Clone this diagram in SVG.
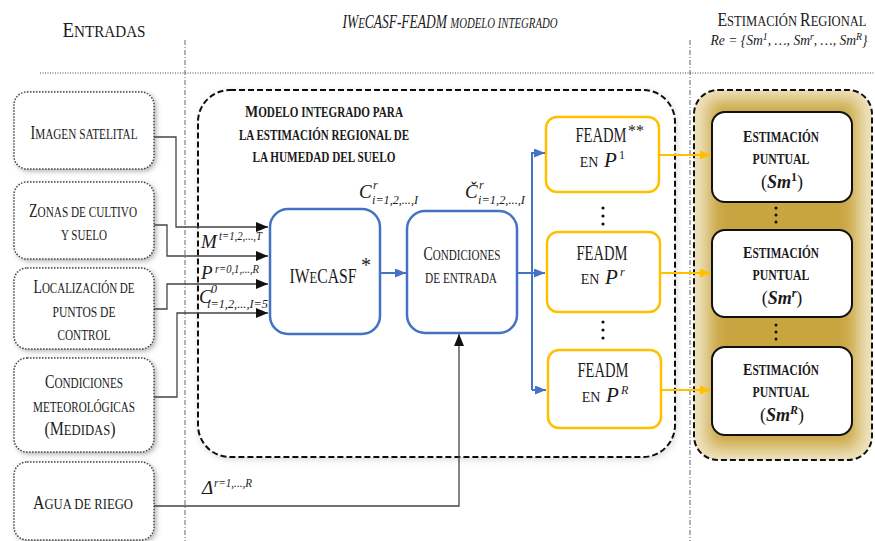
<svg xmlns="http://www.w3.org/2000/svg" width="875" height="541" viewBox="0 0 875 541">
<defs>
<style>
text{font-family:"Liberation Serif","DejaVu Serif",serif;fill:#1a1a1a}
.s{font-size:0.8em}
.in{fill:#fff;stroke:#444;stroke-width:1.5;stroke-dasharray:1.5 1.5}
.blue{fill:#fff;stroke:#4472C4;stroke-width:2.5}
.gold{fill:#fff;stroke:#FFC000;stroke-width:2.5}
.est{fill:#fff;stroke:#111;stroke-width:2}
.k{fill:none;stroke:#444;stroke-width:1.3}
.b{fill:none;stroke:#4472C4;stroke-width:2}
.g{fill:none;stroke:#FFC000;stroke-width:2}
.guide{fill:none;stroke:#666;stroke-width:1;stroke-dasharray:5 2 1 2}
.it{font-style:italic}
.lbl{font-size:19px;text-anchor:middle}
.ttl{font-size:17px;font-weight:bold;text-anchor:middle}
.fe{font-size:21px;text-anchor:middle}
.en{font-size:14px;text-anchor:middle}
.p{font-size:21px;font-style:italic}
.sup{font-size:12px;font-style:italic}
.et{font-size:17px;font-weight:bold;text-anchor:middle}
.sm{font-size:18px;text-anchor:middle}
.m{font-size:19px;font-style:italic}
</style>
<marker id="ak" markerWidth="12" markerHeight="10" refX="12" refY="5" orient="auto" markerUnits="userSpaceOnUse"><path d="M0,0 L12,5 L0,10 z" fill="#111"/></marker>
<marker id="ab" markerWidth="11" markerHeight="9" refX="11" refY="4.5" orient="auto" markerUnits="userSpaceOnUse"><path d="M0,0 L11,4.5 L0,9 z" fill="#4472C4"/></marker>
<marker id="ag" markerWidth="11" markerHeight="9" refX="11" refY="4.5" orient="auto" markerUnits="userSpaceOnUse"><path d="M0,0 L11,4.5 L0,9 z" fill="#FFC000"/></marker>
<filter id="sh" x="-20%" y="-20%" width="140%" height="140%"><feDropShadow dx="2" dy="2" stdDeviation="2.5" flood-color="#000" flood-opacity="0.3"/></filter>
<filter id="sh2" x="-10%" y="-10%" width="120%" height="120%"><feDropShadow dx="1" dy="2" stdDeviation="3" flood-color="#000" flood-opacity="0.15"/></filter>
<filter id="blur" x="-20%" y="-20%" width="140%" height="140%"><feGaussianBlur stdDeviation="9"/></filter>
<clipPath id="cp"><rect x="694" y="90" width="178" height="370" rx="24"/></clipPath>
</defs>
<rect width="875" height="541" fill="#fff"/>

<g id="headers">
<text x="104" y="37" font-size="22" text-anchor="middle" textLength="83" lengthAdjust="spacingAndGlyphs">E<tspan class="s">NTRADAS</tspan></text>
<text x="450" y="28" font-size="19" text-anchor="middle" class="it" textLength="215" lengthAdjust="spacingAndGlyphs">IW<tspan class="s">E</tspan>CASF-FEADM <tspan class="s">MODELO INTEGRADO</tspan></text>
<text x="792" y="26" font-size="19" text-anchor="middle" textLength="149" lengthAdjust="spacingAndGlyphs">E<tspan class="s">STIMACIÓN </tspan>R<tspan class="s">EGIONAL</tspan></text>
<text x="789" y="45" font-size="14" text-anchor="middle" class="it" textLength="157" lengthAdjust="spacingAndGlyphs">Re = {Sm<tspan font-size="10" dy="-5">1</tspan><tspan dy="5">, …, Sm</tspan><tspan font-size="10" dy="-5">r</tspan><tspan dy="5">, …, Sm</tspan><tspan font-size="10" dy="-5">R</tspan><tspan dy="5">}</tspan></text>
<line class="guide" x1="185" y1="40" x2="185" y2="541"/>
<line class="guide" x1="690" y1="40" x2="690" y2="541"/>
<line x1="40" y1="73" x2="875" y2="73" stroke="#444" stroke-width="1.2" stroke-dasharray="1 1.5"/>
</g>

<g id="model-container">
<rect x="198" y="90" width="477" height="367" rx="32" fill="#fff" stroke="#111" stroke-width="2" stroke-dasharray="6 3" filter="url(#sh2)"/>
<text class="ttl" x="324" y="117" textLength="158" lengthAdjust="spacingAndGlyphs">M<tspan class="s">ODELO INTEGRADO PARA</tspan></text>
<text class="ttl" x="324" y="140" textLength="170" lengthAdjust="spacingAndGlyphs"><tspan class="s">LA ESTIMACIÓN REGIONAL DE</tspan></text>
<text class="ttl" x="324" y="162" textLength="143" lengthAdjust="spacingAndGlyphs"><tspan class="s">LA HUMEDAD DEL SUELO</tspan></text>
</g>

<g id="regional-container">
<rect x="694" y="90" width="178" height="370" rx="24" fill="#f1e6c6"/>
<g clip-path="url(#cp)"><rect x="708" y="100" width="150" height="348" fill="#c9a540" filter="url(#blur)"/></g>
<rect x="694" y="90" width="178" height="370" rx="24" fill="none" stroke="#111" stroke-width="2" stroke-dasharray="6 3"/>
</g>

<g id="in1"><rect class="in" x="14" y="92" width="140" height="77" rx="13" filter="url(#sh)"/><text class="lbl" x="84" y="139" textLength="107" lengthAdjust="spacingAndGlyphs">I<tspan class="s">MAGEN SATELITAL</tspan></text></g>
<g id="in2"><rect class="in" x="14" y="182" width="140" height="77" rx="13" filter="url(#sh)"/><text class="lbl" x="83" y="217" textLength="108" lengthAdjust="spacingAndGlyphs">Z<tspan class="s">ONAS DE CULTIVO</tspan></text><text class="lbl" x="84" y="240" textLength="46" lengthAdjust="spacingAndGlyphs"><tspan class="s">Y SUELO</tspan></text></g>
<g id="in3"><rect class="in" x="14" y="268" width="140" height="81" rx="13" filter="url(#sh)"/><text class="lbl" x="84" y="293" textLength="101" lengthAdjust="spacingAndGlyphs">L<tspan class="s">OCALIZACIÓN DE</tspan></text><text class="lbl" x="84" y="317" textLength="63" lengthAdjust="spacingAndGlyphs"><tspan class="s">PUNTOS DE</tspan></text><text class="lbl" x="84" y="340" textLength="53" lengthAdjust="spacingAndGlyphs"><tspan class="s">CONTROL</tspan></text></g>
<g id="in4"><rect class="in" x="14" y="358" width="140" height="94" rx="13" filter="url(#sh)"/><text class="lbl" x="84" y="388" textLength="78" lengthAdjust="spacingAndGlyphs">C<tspan class="s">ONDICIONES</tspan></text><text class="lbl" x="84" y="412" textLength="102" lengthAdjust="spacingAndGlyphs"><tspan class="s">METEOROLÓGICAS</tspan></text><text class="lbl" x="80" y="435" textLength="71" lengthAdjust="spacingAndGlyphs">(M<tspan class="s">EDIDAS</tspan>)</text></g>
<g id="in5"><rect class="in" x="14" y="462" width="140" height="78" rx="13" filter="url(#sh)"/><text class="lbl" x="83" y="509" textLength="100" lengthAdjust="spacingAndGlyphs">A<tspan class="s">GUA DE RIEGO</tspan></text></g>

<g id="iwecasf"><rect class="blue" x="270" y="209" width="110" height="125" rx="18"/><text x="323" y="283" font-size="22" text-anchor="middle" textLength="67" lengthAdjust="spacingAndGlyphs">IW<tspan class="s">E</tspan>CASF</text><text x="361" y="272" font-size="20">*</text></g>
<g id="condiciones"><rect class="blue" x="407" y="211" width="110" height="122" rx="18"/><text x="462" y="260" font-size="18" text-anchor="middle" textLength="77" lengthAdjust="spacingAndGlyphs">C<tspan class="s">ONDICIONES</tspan></text><text x="461" y="283" font-size="18" text-anchor="middle" textLength="72" lengthAdjust="spacingAndGlyphs"><tspan class="s">DE ENTRADA</tspan></text></g>

<g id="feadm1"><rect class="gold" x="546" y="117" width="113" height="75" rx="11"/><text class="fe" x="601" y="142" textLength="51" lengthAdjust="spacingAndGlyphs">FEADM</text><text x="628" y="136" font-size="16">**</text><text class="en" x="589" y="167">EN</text><text class="p" x="604" y="167">P</text><text x="619" y="159" font-size="12">1</text></g>
<g id="feadm2"><rect class="gold" x="547" y="232" width="113" height="80" rx="11"/><text class="fe" x="602" y="260" textLength="51" lengthAdjust="spacingAndGlyphs">FEADM</text><text class="en" x="590" y="284">EN</text><text class="p" x="605" y="284">P</text><text class="sup" x="620" y="276">r</text></g>
<g id="feadm3"><rect class="gold" x="548" y="350" width="113" height="78" rx="11"/><text class="fe" x="603" y="377" textLength="51" lengthAdjust="spacingAndGlyphs">FEADM</text><text class="en" x="591" y="402">EN</text><text class="p" x="606" y="402">P</text><text class="sup" x="621" y="394">R</text></g>
<g id="dots-feadm" fill="#111"><circle cx="603" cy="208" r="1.6"/><circle cx="603" cy="216" r="1.6"/><circle cx="603" cy="224" r="1.6"/><circle cx="603" cy="322" r="1.6"/><circle cx="603" cy="330" r="1.6"/><circle cx="603" cy="338" r="1.6"/></g>

<g id="est1"><rect class="est" x="712" y="112" width="140" height="90" rx="13"/><text class="et" x="781" y="142" textLength="76" lengthAdjust="spacingAndGlyphs">E<tspan class="s">STIMACIÓN</tspan></text><text class="et" x="781" y="164" textLength="57" lengthAdjust="spacingAndGlyphs"><tspan class="s">PUNTUAL</tspan></text><text class="sm" x="782" y="188">(<tspan font-weight="bold" class="it">Sm</tspan><tspan font-size="12" font-weight="bold" dy="-7">1</tspan><tspan dy="7">)</tspan></text></g>
<g id="est2"><rect class="est" x="712" y="230" width="140" height="87" rx="13"/><text class="et" x="781" y="258" textLength="76" lengthAdjust="spacingAndGlyphs">E<tspan class="s">STIMACIÓN</tspan></text><text class="et" x="781" y="280" textLength="57" lengthAdjust="spacingAndGlyphs"><tspan class="s">PUNTUAL</tspan></text><text class="sm" x="782" y="304">(<tspan font-weight="bold" class="it">Sm</tspan><tspan font-size="12" font-weight="bold" class="it" dy="-7">r</tspan><tspan dy="7">)</tspan></text></g>
<g id="est3"><rect class="est" x="712" y="347" width="140" height="88" rx="13"/><text class="et" x="781" y="375" textLength="76" lengthAdjust="spacingAndGlyphs">E<tspan class="s">STIMACIÓN</tspan></text><text class="et" x="781" y="397" textLength="57" lengthAdjust="spacingAndGlyphs"><tspan class="s">PUNTUAL</tspan></text><text class="sm" x="782" y="421">(<tspan font-weight="bold" class="it">Sm</tspan><tspan font-size="12" font-weight="bold" class="it" dy="-7">R</tspan><tspan dy="7">)</tspan></text></g>
<g id="dots-est" fill="#111"><circle cx="776" cy="208" r="1.5"/><circle cx="776" cy="215" r="1.5"/><circle cx="776" cy="222" r="1.5"/><circle cx="776" cy="325" r="1.5"/><circle cx="776" cy="332" r="1.5"/><circle cx="776" cy="339" r="1.5"/></g>

<g id="connectors">
<path class="k" d="M154 137 H176 V227 H268" marker-end="url(#ak)"/>
<path class="k" d="M154 225 H167 V256 H268" marker-end="url(#ak)"/>
<path class="k" d="M154 309 H167 V284 H268" marker-end="url(#ak)"/>
<path class="k" d="M154 397 H177 V313 H268" marker-end="url(#ak)"/>
<path class="k" d="M154 506 H459 V334" marker-end="url(#ak)"/>
<path class="b" d="M380 273 H406" marker-end="url(#ab)"/>
<path class="b" d="M517 273 H545" marker-end="url(#ab)"/>
<path class="b" d="M532 390 V153 H545" marker-end="url(#ab)"/>
<path class="b" d="M532 390 H546" marker-end="url(#ab)"/>
<path class="g" d="M659 155 H711" marker-end="url(#ag)"/>
<path class="g" d="M660 273 H711" marker-end="url(#ag)"/>
<path class="g" d="M661 390 H711" marker-end="url(#ag)"/>
</g>

<g id="labels">
<text class="m" x="201" y="248">M</text><text class="sup" x="219" y="240" textLength="43" lengthAdjust="spacingAndGlyphs">t=1,2,...,T</text>
<text class="m" x="201" y="279">P</text><text class="sup" x="215" y="273" textLength="44" lengthAdjust="spacingAndGlyphs">r=0,1,...,R</text>
<text class="m" x="199" y="303">C</text><text class="sup" x="211" y="293">0</text><text class="sup" x="207" y="308" textLength="61" lengthAdjust="spacingAndGlyphs">i=1,2,...,I=5</text>
<text class="m" x="359" y="198">C</text><text class="sup" x="373" y="189">r</text><text class="sup" x="372" y="204" textLength="46" lengthAdjust="spacingAndGlyphs">i=1,2,...,I</text>
<text class="m" x="465" y="198">Č</text><text class="sup" x="479" y="189">r</text><text class="sup" x="478" y="204" textLength="47" lengthAdjust="spacingAndGlyphs">i=1,2,...,I</text>
<text class="m" x="202" y="494">Δ</text><text class="sup" x="214" y="487" textLength="38" lengthAdjust="spacingAndGlyphs">r=1,...,R</text>
</g>
</svg>
